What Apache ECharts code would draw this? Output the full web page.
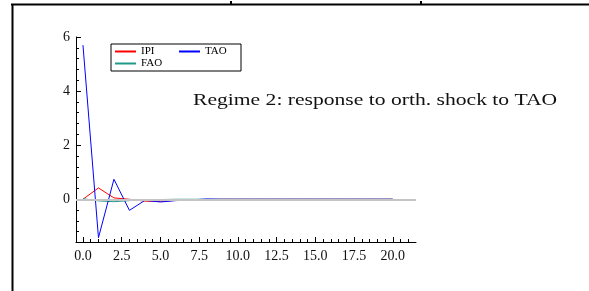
<!DOCTYPE html>
<html>
<head>
<meta charset="utf-8">
<script src="https://cdn.jsdelivr.net/npm/echarts@6/dist/echarts.min.js"></script>
<style>
  html, body { margin: 0; padding: 0; background: #fff; }
  #chart { width: 589px; height: 291px; }
</style>
</head>
<body>
<div id="chart"></div>
<script>
// horizon (steps after shock)
var horizon = [0, 1, 2, 3, 4, 5, 6, 7, 8, 9, 10, 11, 12, 13, 14, 15, 16, 17, 18, 19, 20];
var ipi = [0, 0.42, 0.05, 0.0, -0.07, -0.08, -0.04, -0.02, -0.01, 0, 0, 0, 0, 0, 0, 0, 0, 0, 0, 0, 0];
var tao = [5.7, -1.42, 0.74, -0.41, -0.04, -0.1, -0.05, -0.02, 0.01, 0, 0, 0, 0, 0, 0, 0, 0, 0, 0, 0, 0];
var fao = [0.02, -0.06, -0.09, -0.05, -0.02, -0.01, 0, 0, 0, 0, 0, 0, 0, 0, 0, 0, 0, 0, 0, 0, 0];

var xLabels = [0, 2.5, 5, 7.5, 10, 12.5, 15, 17.5, 20];
var xMinor = [0, 0.5, 1, 1.5, 2, 3, 3.5, 4, 4.5, 5.5, 6, 6.5, 7, 8, 8.5, 9, 9.5, 10.5, 11, 11.5, 12,
  13, 13.5, 14, 14.5, 15.5, 16, 16.5, 17, 18, 18.5, 19, 19.5, 20.5, 21];
var yLabels = [0, 2, 4, 6];
var yMinor = [-1.2, -0.8, -0.4, 0.4, 0.8, 1.2, 1.6, 2.4, 2.8, 3.2, 3.6, 4.4, 4.8, 5.2, 5.6];

var font = 'Liberation Serif';

function pairs(vals) {
  return horizon.map(function (t, i) { return [t, vals[i]]; });
}

var myChart = echarts.init(document.getElementById('chart'));

var xBase = { type: 'value', min: -0.45, max: 21.5, splitLine: { show: false } };
var yBase = { type: 'value', min: -1.58, max: 6, splitLine: { show: false } };

var option = {
  animation: false,
  grid: { left: 76, top: 37, right: 173, bottom: 49 },
  legend: {
    data: ['IPI', 'TAO', 'FAO'],
    left: 111, top: 44,
    width: 150,
    padding: [2, 0, 2, 3],
    itemGap: 1,
    itemWidth: 21, itemHeight: 8,
    itemStyle: { opacity: 0 },
    borderColor: '#000', borderWidth: 1,
    textStyle: { fontFamily: font, fontSize: 11, color: '#000', width: 36, lineHeight: 11 }
  },
  xAxis: [
    Object.assign({}, xBase, {
      axisLine: { onZero: false, lineStyle: { color: '#000' } },
      axisTick: { inside: true, length: 5, lineStyle: { color: '#000' }, customValues: xLabels },
      axisLabel: {
        customValues: xLabels, margin: 7,
        fontFamily: font, fontSize: 14, color: '#111',
        formatter: function (v) { return v.toFixed(1); }
      }
    }),
    Object.assign({}, xBase, {
      position: 'bottom',
      axisLine: { show: false, onZero: false },
      axisTick: { inside: true, length: 3, lineStyle: { color: '#000' }, customValues: xMinor },
      axisLabel: { show: false }
    })
  ],
  yAxis: [
    Object.assign({}, yBase, {
      axisLine: { show: true, onZero: false, lineStyle: { color: '#000' } },
      axisTick: { show: true, inside: true, length: 5, lineStyle: { color: '#000' }, customValues: yLabels },
      axisLabel: { customValues: yLabels, margin: 6, fontFamily: font, fontSize: 14, color: '#111' }
    }),
    Object.assign({}, yBase, {
      position: 'left',
      axisLine: { show: false, onZero: false },
      axisTick: { show: true, inside: true, length: 3, lineStyle: { color: '#000' }, customValues: yMinor },
      axisLabel: { show: false }
    })
  ],
  series: [
    {
      name: 'IPI', type: 'line', symbol: 'none',
      lineStyle: { color: '#ff0000', width: 1 }, itemStyle: { color: '#ff0000' },
      data: pairs(ipi),
      markLine: {
        silent: true, symbol: 'none', label: { show: false },
        lineStyle: { color: '#c4c4c4', width: 2, type: 'solid' },
        data: [{ yAxis: 0 }]
      },
      z: 3
    },
    {
      name: 'TAO', type: 'line', symbol: 'none',
      lineStyle: { color: '#0000ff', width: 1 }, itemStyle: { color: '#0000ff' },
      data: pairs(tao), z: 4
    },
    {
      name: 'FAO', type: 'line', symbol: 'none',
      lineStyle: { color: '#1f9a8a', width: 1 }, itemStyle: { color: '#1f9a8a' },
      data: pairs(fao), z: 3
    }
  ],
  graphic: [
    // frame left over from the page layout
    { type: 'line', shape: { x1: 11, y1: 4.5, x2: 589, y2: 4.5 }, style: { stroke: '#000', lineWidth: 2 } },
    { type: 'line', shape: { x1: 12.5, y1: 4, x2: 12.5, y2: 291 }, style: { stroke: '#000', lineWidth: 2 } },
    { type: 'rect', shape: { x: 230, y: 1, width: 2, height: 3 }, style: { fill: '#000' } },
    { type: 'rect', shape: { x: 420, y: 1, width: 2, height: 3 }, style: { fill: '#000' } },
    {
      type: 'text', x: 193, y: 101, scaleX: 1.35,
      style: {
        text: 'Regime 2: response to orth. shock to TAO',
        fontFamily: font, fontSize: 16, fill: '#111',
        textVerticalAlign: 'middle'
      }
    }
  ]
};

myChart.setOption(option);

window.onresize = function () {
  myChart.resize();
};
</script>
</body>
</html>
